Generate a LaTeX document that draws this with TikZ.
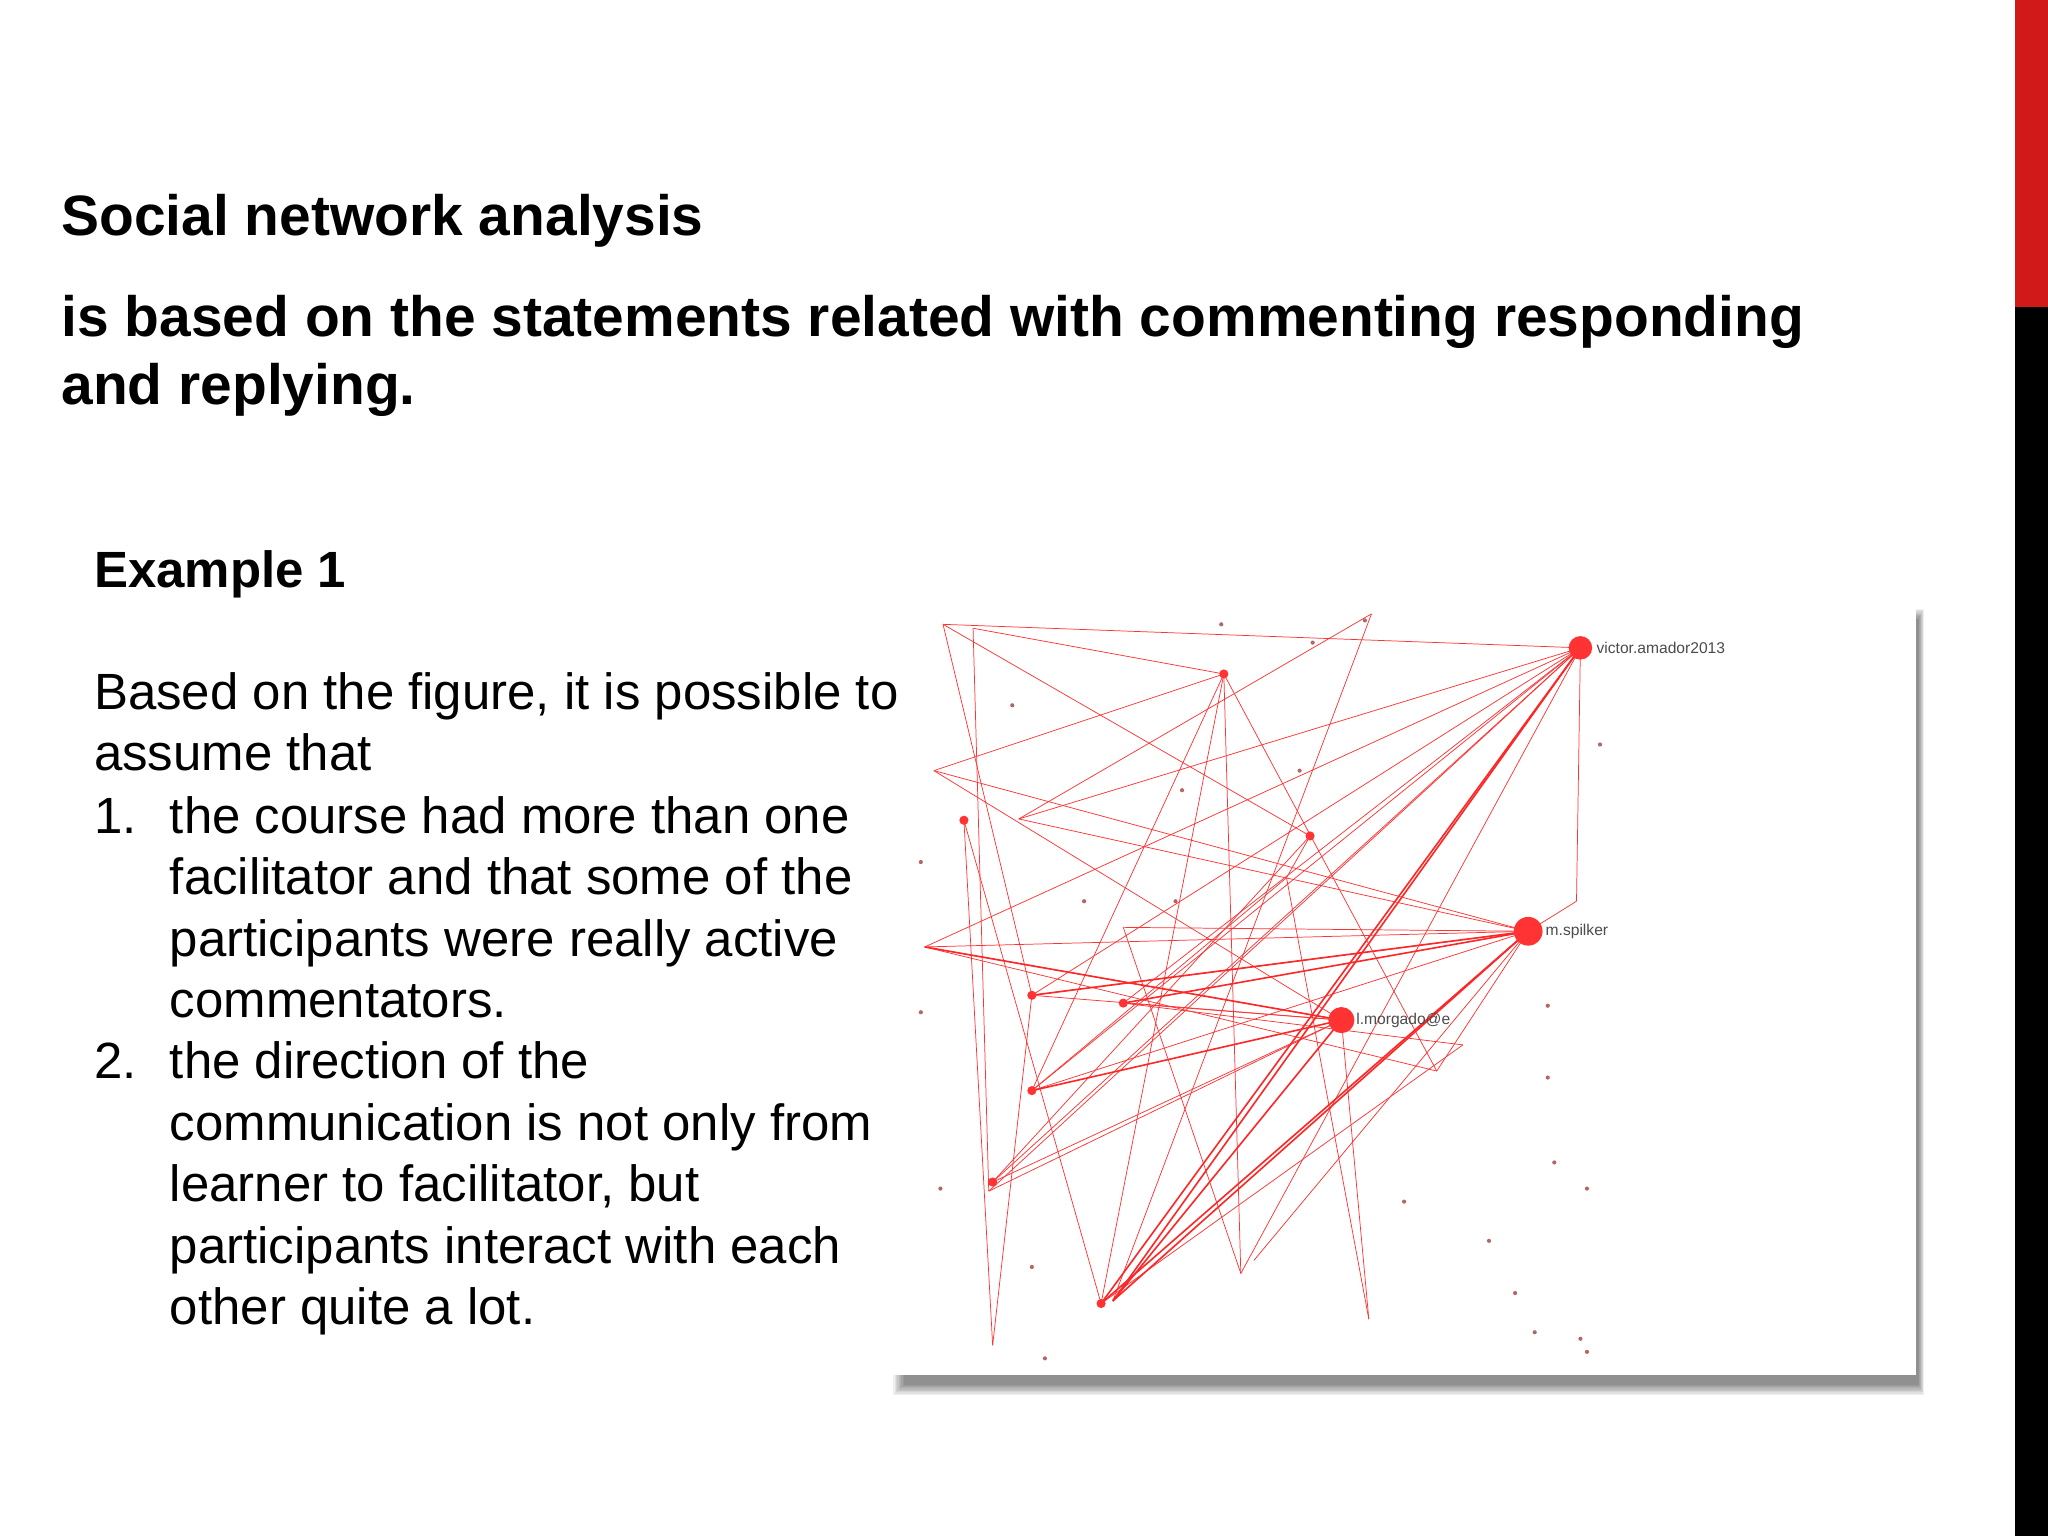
\documentclass[tikz,border=0pt]{standalone}
\usepackage{fontspec}
\setmainfont{Liberation Sans}
\begin{document}
\begin{tikzpicture}[x=0.1cm,y=-0.1cm,
  txt/.style={anchor=base west,inner sep=0pt,font=\fontsize{111}{120}\selectfont},
  ttl/.style={anchor=base west,inner sep=0pt,font=\fontsize{124}{130}\selectfont\bfseries},
  edge/.style={draw=red!80!white,line width=1.6pt},
  thick edge/.style={draw=red!85!white,line width=3.5pt},
  dot/.style={fill=red!80!white},
  lbl/.style={anchor=west,inner sep=1pt,font=\fontsize{34}{36}\selectfont,text=black!70}]
\useasboundingbox (0,0) rectangle (1568,1176);
\fill[white] (0,0) rectangle (1568,1176);
\fill[red!80!black!90] (1543,0) rectangle (1568,235);
\fill[black] (1543,235) rectangle (1568,1176);
% figure frame with soft shadow
\foreach \k in {0,...,8}
  \fill[black,opacity=0.06] (684+\k,466+\k) rectangle (1473-\k/2,1068-\k);
\fill[white] (680,460) rectangle (1467,1053);
% vertices
\foreach \n/\x/\y in {V/1210/496, S/1170/713, M/1027/781, a/722/478, b/745/481, c/937/516, d/738/628, e/843/998, f/852/996, g/860/768, h/790/762, i/1003/640, j/760/905, k/790/835, l/708/725, m/715/590, n/1100/820, o/950/975, p/1048/1010, q/760/1030, r/780/627, s/985/672, t/757/912, u/1120/800, w/1207/690, x/1050/470, y/960/965, z/860/710}
  \coordinate (\n) at (\x,\y);
% edges
\foreach \u/\v in {a/V, b/c, a/i, c/m, c/n, d/q, d/e, V/j, V/k, V/l, V/g, V/o, V/h, V/t, V/w, V/r, w/S, S/l, S/h, S/k, S/n, S/y, S/r, S/z, M/l, M/t, M/p, M/g, i/s, s/k, s/p, a/h, m/S, r/x, l/n, h/M, k/c, j/i, j/M, q/h, g/u, o/c, e/c, e/u, z/o, b/t, m/M, x/f}
  \draw[edge] (\u) -- (\v);
\foreach \u/\v in {V/e, V/f, S/e, S/f, S/g, M/f, M/k, S/h, l/M}
  \draw[thick edge] (\u) -- (\v);
% small scattered dots
\foreach \x/\y in {935/478, 1005/492, 1045/475, 775/540, 705/660, 830/690, 900/690, 1185/770, 1185/825, 1190/890, 1215/910, 1140/950, 1175/1020, 1210/1025, 1215/1035, 790/970, 720/910, 705/775, 800/1040, 995/590, 905/605, 1225/570, 1075/920, 1160/990}
  \fill[red!50!black!60] (\x,\y) circle (1.6);
\foreach \n in {d,e,g,h,c,i,j,k}
  \fill[dot] (\n) circle (3.5);
\fill[dot] (V) circle (9);
\fill[dot] (S) circle (11);
\fill[dot] (M) circle (10);
\node[lbl] (lv) at (1222,496) {victor.amador2013};
\node[lbl] (ls) at (1183,713) {m.spilker};
\node[lbl] (lm) at (1038,781) {l.morgado@e};
% titles and text
\node[ttl] (t1) at (47,180) {Social network analysis};
\node[ttl] (t2) at (47,258) {is based on the statements related with commenting responding};
\node[ttl] (t3) at (47,310) {and replying.};
\node[ttl,font=\fontsize{111}{120}\selectfont\bfseries] (ex) at (72,450) {Example 1};
\node[txt] (b1) at (72,543) {Based on the figure, it is possible to};
\node[txt] (b2) at (72,590) {assume that};
\node[txt] (n1) at (72,638) {1.};
\node[txt] (b3) at (130,638) {the course had more than one};
\node[txt] (b4) at (130,685) {facilitator and that some of the};
\node[txt] (b5) at (130,732) {participants were really active};
\node[txt] (b6) at (130,779) {commentators.};
\node[txt] (n2) at (72,826) {2.};
\node[txt] (b7) at (130,826) {the direction of the};
\node[txt] (b8) at (130,873) {communication is not only from};
\node[txt] (b9) at (130,920) {learner to facilitator, but};
\node[txt] (b10) at (130,967) {participants interact with each};
\node[txt] (b11) at (130,1014) {other quite a lot.};
\end{tikzpicture}
\end{document}
